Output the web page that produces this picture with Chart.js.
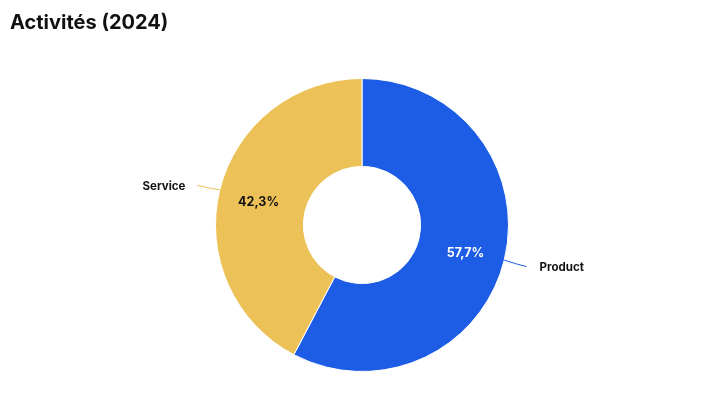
<!DOCTYPE html>
<html>
<head>
<meta charset="utf-8">
<script src="https://cdn.jsdelivr.net/npm/chart.js@4.4.1/dist/chart.umd.min.js"></script>
<style>
  html, body { margin: 0; padding: 0; background: #fff; }
  #wrap { width: 727px; height: 410px; }
</style>
</head>
<body>
<div id="wrap"><canvas id="activites"></canvas></div>
<script>
const categories = ['Product', 'Service'];
const shares = [57.7, 42.3];
const sliceColors = ['#1d5ce5', '#ecc157'];
const valueColors = ['#ffffff', '#111111'];

const fmt = v => v.toFixed(1).replace('.', ',') + '%';

// labels inside slices + leader lines with category names outside
const sliceLabels = {
    id: 'sliceLabels',
    afterDatasetsDraw(chart) {
        const ctx = chart.ctx;
        const meta = chart.getDatasetMeta(0);
        meta.data.forEach((arc, i) => {
            const p = arc.getProps(['x', 'y', 'startAngle', 'endAngle', 'innerRadius', 'outerRadius'], true);
            const mid = (p.startAngle + p.endAngle) / 2;
            const cx = Math.cos(mid), cy = Math.sin(mid);
            const rIn = p.innerRadius + (p.outerRadius - p.innerRadius) * 0.545;

            ctx.save();
            ctx.font = 'bold 12.5px Inter';
            ctx.fillStyle = valueColors[i];
            ctx.textAlign = 'center';
            ctx.textBaseline = 'middle';
            ctx.fillText(fmt(shares[i]), p.x + cx * rIn, p.y + cy * rIn + 3);

            // leader line
            const x0 = p.x + cx * p.outerRadius, y0 = p.y + cy * p.outerRadius;
            const xc = p.x + cx * (p.outerRadius + 12), yc = p.y + cy * (p.outerRadius + 12);
            const x1 = p.x + cx * (p.outerRadius + 23), y1 = p.y + cy * (p.outerRadius + 23) + 1;
            ctx.strokeStyle = sliceColors[i];
            ctx.lineWidth = 1;
            ctx.beginPath();
            ctx.moveTo(x0, y0);
            ctx.quadraticCurveTo(xc, yc + 1, x1, y1);
            ctx.stroke();

            ctx.font = 'bold 11.5px Inter';
            ctx.fillStyle = '#111111';
            ctx.textAlign = cx >= 0 ? 'left' : 'right';
            ctx.fillText(categories[i], x1 + (cx >= 0 ? 13 : -12), y1 + 1);
            ctx.restore();
        });
    }
};

new Chart(document.getElementById('activites'), {
    type: 'doughnut',
    data: {
        labels: categories,
        datasets: [{
            data: shares,
            backgroundColor: sliceColors,
            borderColor: '#ffffff',
            borderWidth: 1
        }]
    },
    options: {
        responsive: true,
        maintainAspectRatio: false,
        animation: false,
        cutout: '40%',
        layout: {
            padding: { top: 0, bottom: 38, left: 10, right: 13 }
        },
        plugins: {
            legend: { display: false },
            tooltip: { enabled: false },
            title: {
                display: true,
                text: 'Activités (2024)',
                align: 'start',
                color: '#111111',
                font: { family: 'Inter', size: 20, weight: 'bold', lineHeight: 1.2 },
                padding: { top: 11, bottom: 43 }
            }
        }
    },
    plugins: [sliceLabels]
});
</script>
</body>
</html>
